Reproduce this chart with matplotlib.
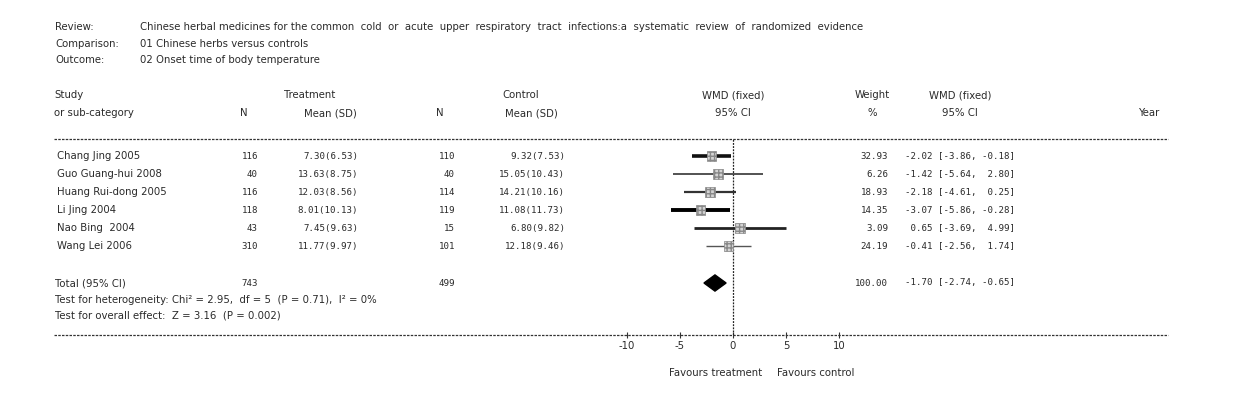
import numpy as np
import matplotlib
matplotlib.use("Agg")
import matplotlib.pyplot as plt

# ---------- data ----------
studies = ["Chang Jing 2005", "Guo Guang-hui 2008", "Huang Rui-dong 2005",
           "Li Jing 2004", "Nao Bing  2004", "Wang Lei 2006"]
t_n = [116, 40, 116, 118, 43, 310]
t_mean = [7.30, 13.63, 12.03, 8.01, 7.45, 11.77]
t_sd = [6.53, 8.75, 8.56, 10.13, 9.63, 9.97]
c_n = [110, 40, 114, 119, 15, 101]
c_mean = [9.32, 15.05, 14.21, 11.08, 6.80, 12.18]
c_sd = [7.53, 10.43, 10.16, 11.73, 9.82, 9.46]
weight = [32.93, 6.26, 18.93, 14.35, 3.09, 24.19]
wmd = [-2.02, -1.42, -2.18, -3.07, 0.65, -0.41]
ci_lo = [-3.86, -5.64, -4.61, -5.86, -3.69, -2.56]
ci_hi = [-0.18, 2.80, 0.25, -0.28, 4.99, 1.74]

total_t_n, total_c_n = 743, 499
total_weight = 100.00
total_wmd, total_lo, total_hi = -1.70, -2.74, -0.65
ticks = [-10, -5, 0, 5, 10]

W, H = 1248, 394
fig = plt.figure(figsize=(W / 100, H / 100), dpi=100)
fig.patch.set_facecolor("white")

# text layer in pixel coordinates
ax_t = fig.add_axes([0, 0, 1, 1])
ax_t.set_xlim(0, W)
ax_t.set_ylim(H, 0)
ax_t.axis("off")

txt = "#2a2a2a"
sans = dict(fontsize=7.3, color=txt, family="DejaVu Sans", va="center")
mono = dict(fontsize=6.6, color=txt, family="DejaVu Sans Mono", va="center")

# header block
ax_t.text(55, 27, "Review:", **sans)
ax_t.text(140, 27, "Chinese herbal medicines for the common  cold  or  acute  upper  respiratory  "
          "tract  infections:a  systematic  review  of  randomized  evidence", **sans)
ax_t.text(55, 44, "Comparison:", **sans)
ax_t.text(140, 44, "01 Chinese herbs versus controls", **sans)
ax_t.text(55, 60, "Outcome:", **sans)
ax_t.text(140, 60, "02 Onset time of body temperature", **sans)

# column headers
ax_t.text(54, 95, "Study", **sans)
ax_t.text(54, 113, "or sub-category", **sans)
ax_t.text(244, 113, "N", ha="center", **sans)
ax_t.text(310, 95, "Treatment", ha="center", **sans)
ax_t.text(330, 113, "Mean (SD)", ha="center", **sans)
ax_t.text(440, 113, "N", ha="center", **sans)
ax_t.text(502, 95, "Control", **sans)
ax_t.text(505, 113, "Mean (SD)", **sans)
ax_t.text(733, 95, "WMD (fixed)", ha="center", **sans)
ax_t.text(733, 113, "95% CI", ha="center", **sans)
ax_t.text(872, 95, "Weight", ha="center", **sans)
ax_t.text(872, 113, "%", ha="center", **sans)
ax_t.text(960, 95, "WMD (fixed)", ha="center", **sans)
ax_t.text(960, 113, "95% CI", ha="center", **sans)
ax_t.text(1150, 113, "Year", ha="center", **sans)

# dashed rules
ax_t.plot([54, 1168], [139, 139], ls=(0, (2, 1)), lw=0.9, color="#333")
ax_t.plot([54, 1168], [335, 335], ls=(0, (2, 1)), lw=0.9, color="#333")

row_y0, row_dy = 156, 18
for i, name in enumerate(studies):
    y = row_y0 + row_dy * i
    ax_t.text(57, y, name, **sans)
    ax_t.text(258, y, f"{t_n[i]}", ha="right", **mono)
    ax_t.text(358, y, f"{t_mean[i]:.2f}({t_sd[i]:.2f})", ha="right", **mono)
    ax_t.text(455, y, f"{c_n[i]}", ha="right", **mono)
    ax_t.text(565, y, f"{c_mean[i]:.2f}({c_sd[i]:.2f})", ha="right", **mono)
    ax_t.text(888, y, f"{weight[i]:.2f}", ha="right", **mono)
    ax_t.text(905, y, f"{wmd[i]:5.2f} [{ci_lo[i]:.2f}, {ci_hi[i]:5.2f}]", **mono)

total_y = 283
ax_t.text(55, total_y, "Total (95% CI)", **sans)
ax_t.text(258, total_y, f"{total_t_n}", ha="right", **mono)
ax_t.text(455, total_y, f"{total_c_n}", ha="right", **mono)
ax_t.text(888, total_y, f"{total_weight:.2f}", ha="right", **mono)
ax_t.text(905, total_y, f"{total_wmd:5.2f} [{total_lo:.2f}, {total_hi:5.2f}]", **mono)
ax_t.text(55, 300, "Test for heterogeneity: Chi\u00b2 = 2.95,  df = 5  (P = 0.71),  I\u00b2 = 0%", **sans)
ax_t.text(55, 316, "Test for overall effect:  Z = 3.16  (P = 0.002)", **sans)

ax_t.text(762, 373, "Favours treatment", ha="right", **sans)
ax_t.text(777, 373, "Favours control", **sans)

# ---------- forest panel ----------
x_px0, x_px1 = 733 - 15 * 10.6, 733 + 15 * 10.6
y_top, y_bot = 139, 335
ax_f = fig.add_axes([x_px0 / W, (H - y_bot) / H, (x_px1 - x_px0) / W, (y_bot - y_top) / H])
ax_f.set_xlim(-15, 15)
ax_f.set_ylim((y_bot - row_y0) / row_dy, (y_top - row_y0) / row_dy)
ax_f.patch.set_alpha(0)
for s in ax_f.spines.values():
    s.set_visible(False)
ax_f.set_yticks([])
ax_f.set_xticks(ticks)
ax_f.set_xticklabels([str(t) for t in ticks], fontsize=7.3, color=txt)
ax_f.tick_params(axis="x", direction="inout", length=5, width=0.8, pad=2, color="#333")

ax_f.axvline(0, ls=(0, (1.5, 1)), lw=0.9, color="#222")

line_w = [2.6, 1.3, 1.6, 2.8, 2.0, 1.0]
line_c = ["#111", "#444", "#333", "#000", "#222", "#555"]
rows = np.arange(len(studies))
for i in rows:
    ax_f.plot([ci_lo[i], ci_hi[i]], [i, i], lw=line_w[i], color=line_c[i],
              solid_capstyle="butt", zorder=2)
ax_f.scatter(wmd, rows, marker="s", s=48, facecolor="#d4d4d4", edgecolor="#888",
             linewidth=0.5, hatch="++++", zorder=3)

total_row = (total_y - row_y0) / row_dy
dh = 0.45
ax_f.fill([total_lo, total_wmd, total_hi, total_wmd],
          [total_row, total_row - dh, total_row, total_row + dh],
          color="black", zorder=3)

fig.savefig("out.png", dpi=100, facecolor="white")
